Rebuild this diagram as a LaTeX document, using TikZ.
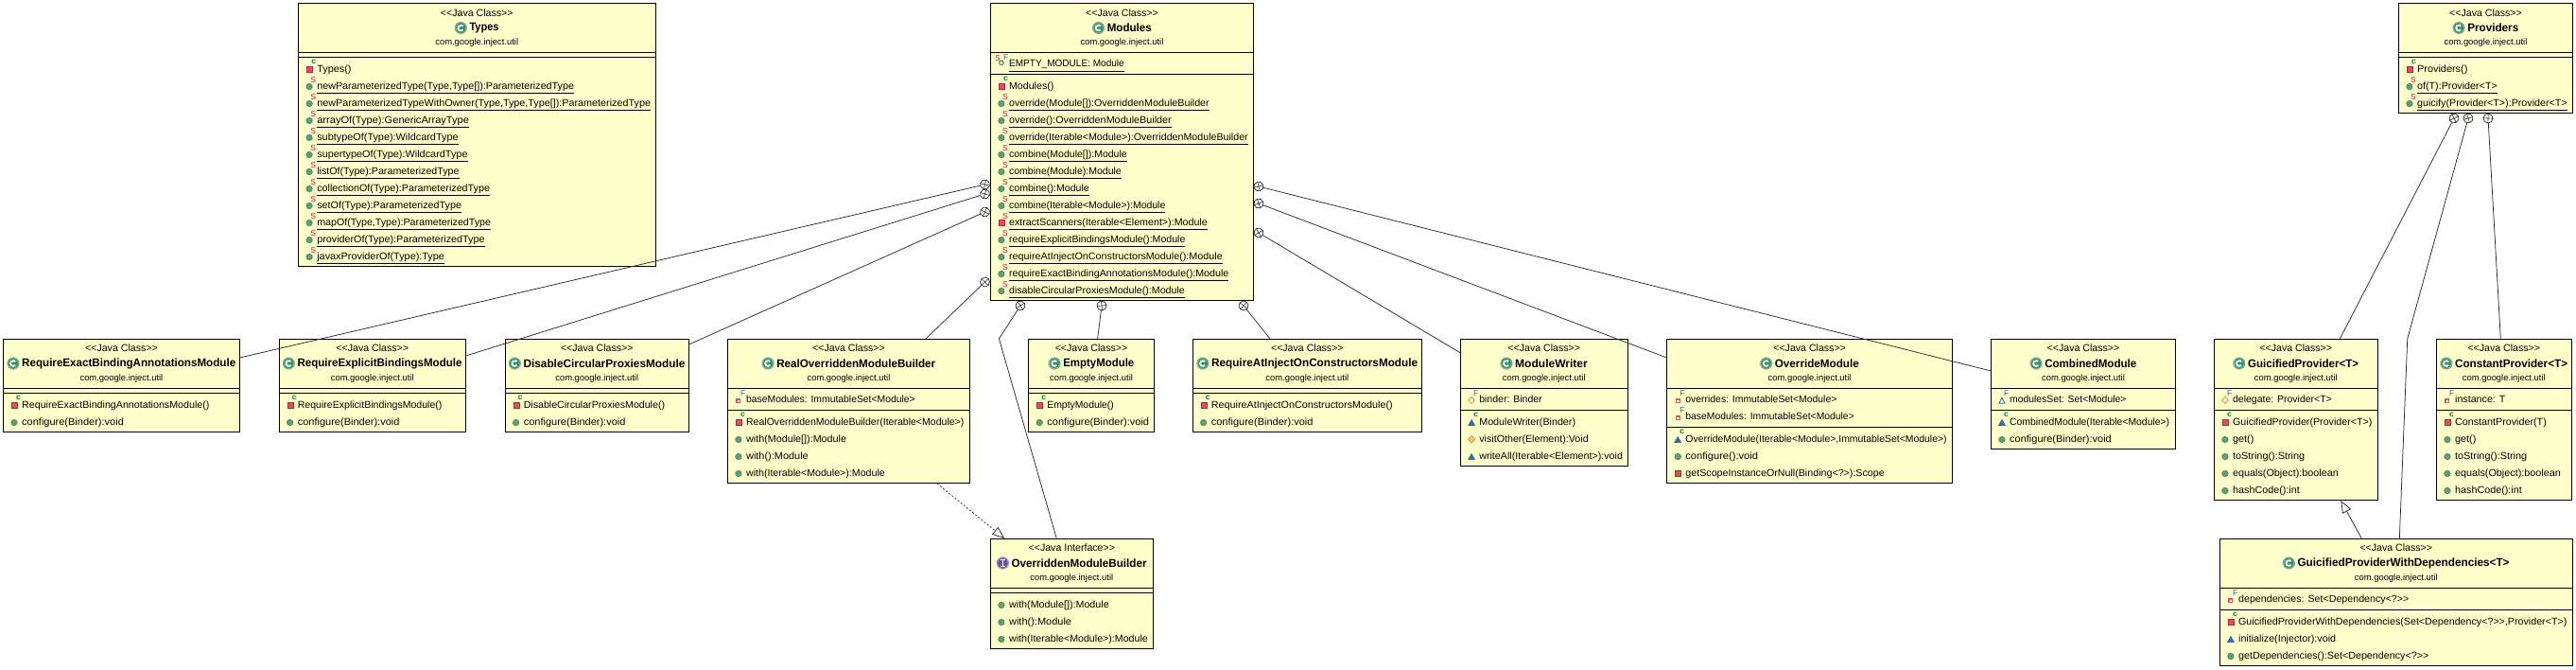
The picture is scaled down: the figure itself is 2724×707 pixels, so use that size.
\documentclass[tikz,border=0pt]{standalone}
\usepackage{fontspec}
\usepackage{graphicx}
\newfontfamily\umlfont{Liberation Sans}
\usetikzlibrary{arrows.meta,calc}
\definecolor{boxfill}{HTML}{FFFFCC}
\definecolor{pubc}{HTML}{5E9F78}
\definecolor{pubd}{HTML}{3E7F5A}
\definecolor{pric}{HTML}{E0505F}
\definecolor{prid}{HTML}{A82A3A}
\definecolor{packc}{HTML}{2F6CAE}
\definecolor{protc}{HTML}{F0C878}
\definecolor{protd}{HTML}{C08A30}
\definecolor{modS}{HTML}{C8103C}
\definecolor{modF}{HTML}{3060B8}
\definecolor{modc}{HTML}{0A8040}
\definecolor{classic}{HTML}{3F8F66}
\definecolor{ifacec}{HTML}{6453A8}
\definecolor{connc}{HTML}{2A2A2A}
\tikzset{
 boxpart/.style={draw=black,fill=boxfill,line width=1pt,inner sep=0pt,outer sep=0pt,anchor=north west},
 stereo/.style={inner sep=0pt,font=\umlfont\fontsize{10.6}{12}\selectfont},
 titlet/.style={inner sep=0pt,font=\umlfont\bfseries\fontsize{12}{14}\selectfont},
 pkg/.style={inner sep=0pt,font=\umlfont\fontsize{9.4}{11}\selectfont},
 rowt/.style={inner sep=0pt,anchor=base west,font=\umlfont\fontsize{10.5}{12}\selectfont},
 modt/.style={inner sep=0pt,font=\umlfont\fontsize{8.5}{9}\selectfont},
 conn/.style={draw=connc,line width=.75pt},
 circ/.style={circle,draw=connc,line width=.7pt,minimum size=10pt,inner sep=0pt,outer sep=0pt},
 opentip/.style={-{Triangle[open,length=13pt,width=10pt]}},
}
\newcounter{rowc}
\newcommand\cbox[7]{%
 \pgfmathsetmacro\bw{#3-#2}\pgfmathsetmacro\hh{#5-#4}\pgfmathsetmacro\fh{#6-#5}\pgfmathsetmacro\mh{#7-#6}\pgfmathsetmacro\ah{#7-#4}%
 \pgfmathsetmacro\mx{(#2+#3)/2}%
 \node[boxpart,minimum width=\bw pt,minimum height=\ah pt] (#1) at (#2,#4) {};
 \node[boxpart,minimum width=\bw pt,minimum height=\hh pt] (#1-h) at (#2,#4) {};
 \node[boxpart,minimum width=\bw pt,minimum height=\fh pt] (#1-f) at (#2,#5) {};
 \node[boxpart,minimum width=\bw pt,minimum height=\mh pt] (#1-m) at (#2,#6) {};
 \edef\curname{#1}\edef\curx{#2}\edef\cty{#4}\edef\fty{#5}\edef\mty{#6}}
\newcommand\chead[4]{%
 \pgfmathsetmacro\ya{\cty+10}\pgfmathsetmacro\yb{\cty+26}\pgfmathsetmacro\yc{\cty+42}%
 \node[stereo] (\curname-st) at (\mx,\ya) {<<Java #1>>};
 \node[titlet] (\curname-ti) at (\mx,\yb) {\hspace{15.5pt}\resizebox{#4pt}{\height}{#2}};
 \begin{scope}[shift={($(\curname-ti.west)+(6.5,0)$)}]#3\end{scope}
 \node[pkg] (\curname-pk) at (\mx,\yc) {com.google.inject.util};
}
\newcommand\CI{\fill[classic!70!white] (0,0) circle (6.6);\fill[classic] (0,0) circle (5.2);\draw[white,line width=1.7pt] (40:2.9) arc (40:320:2.9);}
\newcommand\II{\fill[ifacec!70!white] (0,0) circle (6.6);\fill[ifacec] (0,0) circle (5.2);\draw[white,line width=1.6pt] (0,-3.2)--(0,3.2);\draw[white,line width=1pt] (-2.6,-3.2)--(2.6,-3.2) (-2.6,3.2)--(2.6,3.2);}
\newcommand\frows{\pgfmathsetmacro\cury{\fty+12}\pgfmathsetmacro\curt{\curx+19.6}}
\newcommand\mrows{\pgfmathsetmacro\cury{\mty+12.3}\pgfmathsetmacro\curt{\curx+19.6}}
% #1 printed width, #2 icon, #3 text
\newcommand\R[3]{%
 \stepcounter{rowc}\pgfmathsetmacro\cb{\cury+3.7}%
 \begin{scope}[shift={(\curt,\cury)}]#2\end{scope}
 \node[rowt] (row\therowc) at (\curt,\cb) {\resizebox{#1pt}{\height}{#3}};
 \pgfmathsetmacro\cury{\cury+18}}
\newcommand\U[3]{%
 \stepcounter{rowc}\pgfmathsetmacro\cb{\cury+3.7}%
 \begin{scope}[shift={(\curt,\cury)}]#2\end{scope}
 \node[rowt] (row\therowc) at (\curt,\cb) {\rlap{\vrule width #1pt height -3.9pt depth 4.7pt}\resizebox{#1pt}{\height}{#3}};
 \pgfmathsetmacro\cury{\cury+18}}
\newcommand\modS{\stepcounter{rowc}\node[modt,text=modS] (mods\therowc) at (-4,-6) {S};}
\newcommand\modC{\stepcounter{rowc}\node[modt,text=modc,font=\umlfont\bfseries\fontsize{8.5}{9}\selectfont] (modc\therowc) at (-3.4,-7) {c};}
\newcommand\modF{\stepcounter{rowc}\node[modt,text=modF] (modf\therowc) at (-3.3,-6) {F};}
\newcommand\pub{\filldraw[fill=pubc,draw=pubd,line width=.5pt] (-8,1.2) circle (3.3);}
\newcommand\pri{\filldraw[fill=pric,draw=prid,line width=.7pt] (-10.6,-1.6) rectangle (-4.6,4.4);}
\newcommand\pack{\fill[packc] (-12,4.5)--(-4,4.5)--(-8,-2.5)--cycle;}
\newcommand\prot{\filldraw[fill=protc,draw=protd,line width=.5pt] (-8,-2.9)--(-4.2,1)--(-8,4.9)--(-11.8,1)--cycle;}
\newcommand\priF{\filldraw[fill=white,draw=pric,line width=1.1pt] (-9.9,0)rectangle(-6.1,3.8);\modF}
\newcommand\protF{\draw[protd,line width=.7pt] (-8,-2.7)--(-4.8,.9)--(-8,4.5)--(-11.2,.9)--cycle;\modF}
\newcommand\packF{\draw[packc,line width=.9pt] (-11,4.2)--(-5,4.2)--(-8,-1.8)--cycle;\modF}
\newcommand\pubSF{\draw[pubd,line width=1pt] (-8,-.7) circle (2.3);\modF\stepcounter{rowc}\node[modt,text=modS] (mods\therowc) at (-12,-5) {S};}
\newcommand\priC{\pri\modC}
\newcommand\packC{\pack\modC}
\newcommand\pubS{\pub\modS}
\newcommand\priS{\pri\modS}
\newcommand\cplus[4]{\node[circ,rotate=#4] (#1) at (#2,#3) {};\draw[connc,line width=.6pt] (#1.north)--(#1.south) (#1.west)--(#1.east);}
\begin{document}
\begin{tikzpicture}[x=1pt,y=-1pt]
\useasboundingbox (0,0) rectangle (2724,707);
% Types
\cbox{types}{315.5}{693}{3.5}{55}{60}{281}
\chead{Class}{Types}{\CI}{31}
\mrows
\R{36.3}{\priC}{Types()}
\U{271.7}{\pubS}{newParameterizedType(Type,Type[]):ParameterizedType}
\U{352.7}{\pubS}{newParameterizedTypeWithOwner(Type,Type,Type[]):ParameterizedType}
\U{160.7}{\pubS}{arrayOf(Type):GenericArrayType}
\U{149.3}{\pubS}{subtypeOf(Type):WildcardType}
\U{159.3}{\pubS}{supertypeOf(Type):WildcardType}
\U{150.3}{\pubS}{listOf(Type):ParameterizedType}
\U{182.7}{\pubS}{collectionOf(Type):ParameterizedType}
\U{152.7}{\pubS}{setOf(Type):ParameterizedType}
\U{183.7}{\pubS}{mapOf(Type,Type):ParameterizedType}
\U{177.3}{\pubS}{providerOf(Type):ParameterizedType}
\U{134.7}{\pubS}{javaxProviderOf(Type):Type}
% Modules
\cbox{modules}{1047.3}{1325.7}{3.5}{55}{78}{317}
\chead{Class}{Modules}{\CI}{47}
\frows
\U{121.7}{\pubSF}{EMPTY\_MODULE: Module}
\mrows
\R{47.3}{\priC}{Modules()}
\U{211.7}{\pubS}{override(Module[]):OverriddenModuleBuilder}
\U{171.7}{\pubS}{override():OverriddenModuleBuilder}
\U{252.7}{\pubS}{override(Iterable<Module>):OverriddenModuleBuilder}
\U{124.7}{\pubS}{combine(Module[]):Module}
\U{118.7}{\pubS}{combine(Module):Module}
\U{84.7}{\pubS}{combine():Module}
\U{165.3}{\pubS}{combine(Iterable<Module>):Module}
\U{209.7}{\priS}{extractScanners(Iterable<Element>):Module}
\U{186.3}{\pubS}{requireExplicitBindingsModule():Module}
\U{225.7}{\pubS}{requireAtInjectOnConstructorsModule():Module}
\U{232.3}{\pubS}{requireExactBindingAnnotationsModule():Module}
\U{185.7}{\pubS}{disableCircularProxiesModule():Module}
% Providers
\cbox{providers}{2536.3}{2720.7}{3.5}{55}{60}{119}
\chead{Class}{Providers}{\CI}{54}
\mrows
\R{53.3}{\priC}{Providers()}
\U{84.7}{\pubS}{of(T):Provider<T>}
\U{158.7}{\pubS}{guicify(Provider<T>):Provider<T>}
% lower row
\cbox{reqE}{3.4}{253.5}{358}{410}{415}{456}
\chead{Class}{RequireExactBindingAnnotationsModule}{\CI}{226}
\mrows
\R{198.3}{\priC}{RequireExactBindingAnnotationsModule()}
\R{107.7}{\pub}{configure(Binder):void}
\cbox{reqX}{295}{492.5}{358}{410}{415}{456}
\chead{Class}{RequireExplicitBindingsModule}{\CI}{174}
\mrows
\R{152.7}{\priC}{RequireExplicitBindingsModule()}
\R{107.7}{\pub}{configure(Binder):void}
\cbox{disable}{534}{728.5}{358}{410}{415}{456}
\chead{Class}{DisableCircularProxiesModule}{\CI}{171}
\mrows
\R{149.3}{\priC}{DisableCircularProxiesModule()}
\R{107.7}{\pub}{configure(Binder):void}
\cbox{real}{769.3}{1025.7}{358}{410}{433}{510}
\chead{Class}{RealOverriddenModuleBuilder}{\CI}{168}
\frows
\R{178.7}{\priF}{baseModules: ImmutableSet<Module>}
\mrows
\R{230.3}{\priC}{RealOverriddenModuleBuilder(Iterable<Module>)}
\R{106}{\pub}{with(Module[]):Module}
\R{65.7}{\pub}{with():Module}
\R{146.7}{\pub}{with(Iterable<Module>):Module}
\cbox{empty}{1087.6}{1220.5}{358}{410}{415}{456}
\chead{Class}{EmptyModule}{\CI}{75}
\mrows
\R{70.4}{\priC}{EmptyModule()}
\R{107.7}{\pub}{configure(Binder):void}
\cbox{reqA}{1261}{1503.7}{358}{410}{415}{456}
\chead{Class}{RequireAtInjectOnConstructorsModule}{\CI}{218}
\mrows
\R{192}{\priC}{RequireAtInjectOnConstructorsModule()}
\R{107.7}{\pub}{configure(Binder):void}
\cbox{writer}{1544.5}{1721}{358}{410}{433}{492}
\chead{Class}{ModuleWriter}{\CI}{76.6}
\frows
\R{66.4}{\protF}{binder: Binder}
\mrows
\R{101.8}{\packC}{ModuleWriter(Binder)}
\R{115.4}{\prot}{visitOther(Element):Void}
\R{151.7}{\pack}{writeAll(Iterable<Element>):void}
\cbox{override}{1762.6}{2064.6}{358}{410}{451}{510}
\chead{Class}{OverrideModule}{\CI}{89}
\frows
\R{160}{\priF}{overrides: ImmutableSet<Module>}
\R{178.4}{\priF}{baseModules: ImmutableSet<Module>}
\mrows
\R{276.3}{\packC}{OverrideModule(Iterable<Module>,ImmutableSet<Module>)}
\R{76.6}{\pub}{configure():void}
\R{210.4}{\pri}{getScopeInstanceOrNull(Binding<?>):Scope}
\cbox{combined}{2105.3}{2300.7}{358}{410}{433}{474}
\chead{Class}{CombinedModule}{\CI}{97}
\frows
\R{123.3}{\packF}{modulesSet: Set<Module>}
\mrows
\R{169}{\packC}{CombinedModule(Iterable<Module>)}
\R{107.7}{\pub}{configure(Binder):void}
\cbox{guic}{2341.3}{2514.3}{358}{410}{433}{528}
\chead{Class}{GuicifiedProvider<T>}{\CI}{117}
\frows
\R{104.7}{\protF}{delegate: Provider<T>}
\mrows
\R{147.3}{\priC}{GuicifiedProvider(Provider<T>)}
\R{22.3}{\pub}{get()}
\R{76}{\pub}{toString():String}
\R{111.7}{\pub}{equals(Object):boolean}
\R{70.7}{\pub}{hashCode():int}
\cbox{const}{2576.3}{2719.3}{358}{410}{433}{528}
\chead{Class}{ConstantProvider<T>}{\CI}{119}
\frows
\R{53.3}{\priF}{instance: T}
\mrows
\R{96.7}{\priC}{ConstantProvider(T)}
\R{22.3}{\pub}{get()}
\R{76}{\pub}{toString():String}
\R{111.7}{\pub}{equals(Object):boolean}
\R{70.7}{\pub}{hashCode():int}
\cbox{gpwd}{2347.3}{2720.3}{569}{621}{644}{703}
\chead{Class}{GuicifiedProviderWithDependencies<T>}{\CI}{224}
\frows
\R{180.3}{\priF}{dependencies: Set<Dependency<?>>}
\mrows
\R{347.3}{\priC}{GuicifiedProviderWithDependencies(Set<Dependency<?>>,Provider<T>)}
\R{103}{\pack}{initialize(Injector):void}
\R{201.3}{\pub}{getDependencies():Set<Dependency<?>>}
\cbox{omb}{1047.3}{1219.3}{569}{621}{626}{685}
\chead{Interface}{OverriddenModuleBuilder}{\II}{143}
\mrows
\R{105.7}{\pub}{with(Module[]):Module}
\R{66}{\pub}{with():Module}
\R{146.7}{\pub}{with(Iterable<Module>):Module}
% composition markers
\cplus{mE}{1041.5}{195}{-13}
\cplus{mX}{1041.5}{205}{-17}
\cplus{mD}{1041.5}{224}{-27}
\cplus{mR}{1041.5}{298}{45}
\cplus{mO}{1079}{323}{33}
\cplus{mM}{1165}{323}{6}
\cplus{mA}{1315}{323}{-39}
\cplus{mW}{1331}{246}{31}
\cplus{mV}{1331}{215}{20}
\cplus{mC}{1331}{197}{14}
\cplus{pG}{2595}{125}{27}
\cplus{pD}{2610}{125}{15}
\cplus{pC}{2631}{125}{-3}
\coordinate (bendO) at (1056.4,358);
\coordinate (bendP) at (2545.7,358);
% connectors
\draw[conn] (mE) -- ($(reqE.north east)+(0,20)$);
\draw[conn] (mX) -- ($(reqX.north east)+(0,18)$);
\draw[conn] (mD) -- ($(disable.north east)+(0,6)$);
\draw[conn] (mR) -- ($(real.north west)+(209.7,0)$);
\draw[conn] (mO) -- (bendO) -- ($(omb.north west)+(70,0)$);
\draw[conn] (mM) -- ($(empty.north west)+(73,0)$);
\draw[conn] (mA) -- ($(reqA.north west)+(82,0)$);
\draw[conn] (mW) -- ($(writer.north west)+(0,15)$);
\draw[conn] (mV) -- ($(override.north west)+(0,20)$);
\draw[conn] (mC) -- ($(combined.north west)+(0,34)$);
\draw[conn] (pG) -- ($(guic.north west)+(133,0)$);
\draw[conn] (pD) -- (bendP) -- ($(gpwd.north west)+(190,0)$);
\draw[conn] (pC) -- ($(const.north west)+(68,0)$);
\draw[conn,opentip] ($(gpwd.north west)+(150,0)$) -- ($(guic.south west)+(134,1)$);
\draw[conn,opentip,dash pattern=on 2pt off 2pt] ($(real.south west)+(221.7,1)$) -- ($(omb.north west)+(15,0)$);
\end{tikzpicture}
\end{document}
